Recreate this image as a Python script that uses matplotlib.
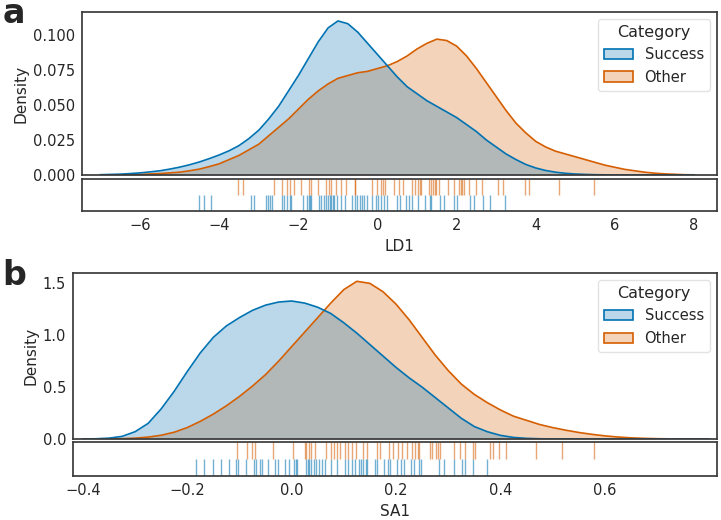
import matplotlib
matplotlib.use("Agg")
import matplotlib.pyplot as plt
from matplotlib.colors import to_rgba
from matplotlib.patches import Patch

# ---- panel a: LD1 ----
# density curves every 0.25 LD1 units
ld1_grid = [-7.00, -6.75, -6.50, -6.25, -6.00, -5.75, -5.50, -5.25, -5.00, -4.75,
            -4.50, -4.25, -4.00, -3.75, -3.50, -3.25, -3.00, -2.75, -2.50, -2.25,
            -2.00, -1.75, -1.50, -1.25, -1.00, -0.75, -0.50, -0.25, 0.00, 0.25,
            0.50, 0.75, 1.00, 1.25, 1.50, 1.75, 2.00, 2.25, 2.50, 2.75,
            3.00, 3.25, 3.50, 3.75, 4.00, 4.25, 4.50, 4.75, 5.00, 5.25,
            5.50, 5.75, 6.00, 6.25, 6.50, 6.75, 7.00, 7.25, 7.50, 7.75, 8.00]
ld1_dens_success = [0.0002, 0.0004, 0.0006, 0.001, 0.0015, 0.0022, 0.003, 0.0042, 0.0056, 0.0073,
                    0.0093, 0.0117, 0.0143, 0.0173, 0.021, 0.026, 0.032, 0.040, 0.049, 0.060,
                    0.071, 0.083, 0.095, 0.105, 0.110, 0.108, 0.102, 0.094, 0.086, 0.078,
                    0.070, 0.063, 0.058, 0.053, 0.049, 0.045, 0.041, 0.036, 0.031, 0.025,
                    0.020, 0.015, 0.011, 0.0075, 0.005, 0.0032, 0.002, 0.0012, 0.0007, 0.0004,
                    0.0002, 0.0001, 0.0, 0.0, 0.0, 0.0, 0.0, 0.0, 0.0, 0.0, 0.0]
ld1_dens_other = [0.0, 0.0, 0.0001, 0.0002, 0.0004, 0.0007, 0.001, 0.0015, 0.002, 0.003,
                  0.0042, 0.006, 0.008, 0.011, 0.014, 0.018, 0.022, 0.028, 0.034, 0.040,
                  0.047, 0.054, 0.060, 0.065, 0.069, 0.071, 0.073, 0.074, 0.076, 0.078,
                  0.081, 0.085, 0.090, 0.094, 0.097, 0.096, 0.092, 0.085, 0.076, 0.066,
                  0.056, 0.046, 0.037, 0.030, 0.024, 0.020, 0.017, 0.015, 0.013, 0.011,
                  0.009, 0.007, 0.0055, 0.004, 0.003, 0.002, 0.0013, 0.0008, 0.0005, 0.0002, 0.0001]

# rug positions (individual LD1 scores)
ld1_success = [-4.51, -4.39, -4.22, -3.19, -3.12, -2.83, -2.77, -2.72, -2.66, -2.41,
               -2.37, -2.28, -2.22, -2.18, -1.88, -1.77, -1.73, -1.71, -1.67, -1.48,
               -1.42, -1.36, -1.29, -1.26, -1.21, -1.17, -1.12, -1.09, -1.02, -0.93,
               -0.81, -0.64, -0.58, -0.51, -0.45, -0.39, -0.35, -0.26, -0.13, -0.05,
               0.01, 0.08, 0.16, 0.23, 0.50, 0.58, 0.73, 0.79, 0.86, 1.02,
               1.19, 1.32, 1.36, 1.57, 1.67, 1.93, 2.01, 2.33, 2.43, 2.67,
               2.85, 3.21]
ld1_other = [-3.53, -3.39, -2.62, -2.41, -2.28, -2.22, -2.11, -1.94, -1.73, -1.67,
             -1.51, -1.29, -1.23, -1.17, -1.06, -0.93, -0.79, -0.57, -0.56, -0.13,
             -0.01, 0.08, 0.13, 0.20, 0.41, 0.54, 0.65, 0.86, 0.96, 1.02,
             1.07, 1.10, 1.30, 1.36, 1.41, 1.45, 1.49, 1.55, 1.78, 1.93,
             2.05, 2.10, 2.14, 2.18, 2.31, 2.49, 2.63, 3.04, 3.17, 3.74,
             3.82, 4.58, 5.46]

# ---- panel b: SA1 ----
sa1_grid = [-0.400, -0.375, -0.350, -0.325, -0.300, -0.275, -0.250, -0.225, -0.200, -0.175,
            -0.150, -0.125, -0.100, -0.075, -0.050, -0.025, 0.000, 0.025, 0.050, 0.075,
            0.100, 0.125, 0.150, 0.175, 0.200, 0.225, 0.250, 0.275, 0.300, 0.325,
            0.350, 0.375, 0.400, 0.425, 0.450, 0.475, 0.500, 0.525, 0.550, 0.575,
            0.600, 0.625, 0.650, 0.675, 0.700, 0.725, 0.750, 0.775, 0.800]
sa1_dens_success = [0.0, 0.002, 0.008, 0.025, 0.07, 0.15, 0.29, 0.46, 0.65, 0.83,
                    0.98, 1.09, 1.17, 1.24, 1.29, 1.32, 1.33, 1.31, 1.27, 1.21,
                    1.12, 1.02, 0.91, 0.80, 0.69, 0.59, 0.50, 0.40, 0.30, 0.20,
                    0.12, 0.07, 0.035, 0.015, 0.006, 0.002, 0.0005, 0.0, 0.0, 0.0,
                    0.0, 0.0, 0.0, 0.0, 0.0, 0.0, 0.0, 0.0, 0.0]
sa1_dens_other = [0.0, 0.0, 0.001, 0.003, 0.008, 0.018, 0.036, 0.065, 0.11, 0.17,
                  0.24, 0.32, 0.41, 0.51, 0.62, 0.75, 0.89, 1.03, 1.17, 1.31,
                  1.44, 1.52, 1.50, 1.42, 1.30, 1.15, 0.98, 0.81, 0.66, 0.53,
                  0.43, 0.35, 0.28, 0.22, 0.18, 0.14, 0.11, 0.085, 0.063, 0.045,
                  0.030, 0.019, 0.011, 0.006, 0.003, 0.0012, 0.0004, 0.0001, 0.0]

sa1_success = [-0.184, -0.168, -0.151, -0.135, -0.120, -0.106, -0.103, -0.088, -0.072, -0.069,
               -0.061, -0.056, -0.045, -0.031, -0.026, -0.013, -0.005, 0.004, 0.008, 0.011,
               0.028, 0.031, 0.034, 0.038, 0.043, 0.046, 0.052, 0.059, 0.063, 0.076,
               0.087, 0.103, 0.108, 0.115, 0.121, 0.129, 0.133, 0.137, 0.142, 0.144,
               0.159, 0.163, 0.177, 0.184, 0.188, 0.201, 0.209, 0.216, 0.228, 0.234,
               0.244, 0.248, 0.282, 0.292, 0.312, 0.327, 0.333, 0.348, 0.375]
sa1_other = [-0.104, -0.085, -0.075, -0.071, -0.036, 0.002, 0.025, 0.028, 0.034, 0.038,
             0.044, 0.066, 0.076, 0.082, 0.087, 0.092, 0.102, 0.108, 0.115, 0.124,
             0.137, 0.145, 0.164, 0.169, 0.186, 0.195, 0.203, 0.212, 0.221, 0.230,
             0.237, 0.242, 0.245, 0.265, 0.269, 0.276, 0.280, 0.284, 0.312, 0.322,
             0.333, 0.348, 0.351, 0.381, 0.386, 0.397, 0.410, 0.469, 0.518, 0.579]

categories = ["Success", "Other"]
colors = {"Success": "#0072B2", "Other": "#D55E00"}
FILL_ALPHA = 0.27

plt.rcParams["font.family"] = ["DejaVu Sans"]
plt.rcParams["text.color"] = "#262626"
plt.rcParams["axes.labelcolor"] = "#262626"
plt.rcParams["xtick.color"] = "#262626"
plt.rcParams["ytick.color"] = "#262626"
plt.rcParams["axes.edgecolor"] = "#3a3a3a"
plt.rcParams["axes.linewidth"] = 1.25
plt.rcParams["xtick.major.size"] = 0
plt.rcParams["ytick.major.size"] = 0
plt.rcParams["xtick.major.pad"] = 5
plt.rcParams["ytick.major.pad"] = 5


def panel(fig, main_rect, rug_rect, name, grid, dens, points, xlim, ylim, xticks, yticks, letter, baseline):
	ax = fig.add_axes(main_rect)
	rug = fig.add_axes(rug_rect, sharex=ax)

	# Other first so Success sits on top in the overlap
	for cat in ["Other", "Success"]:
		ax.fill_between(grid, dens[cat], 0, color=colors[cat], alpha=FILL_ALPHA, linewidth=0)
		ax.plot(grid, dens[cat], color=colors[cat], linewidth=1.2, solid_joinstyle="round")
	ax.set_xlim(*xlim)
	ax.set_ylim(*ylim)
	ax.set_yticks(yticks)
	ax.set_ylabel("Density", fontsize=11, labelpad=3)
	ax.tick_params(axis="x", labelbottom=False)
	ax.tick_params(axis="y", labelsize=10.5)

	handles = [Patch(facecolor=to_rgba(colors[c], FILL_ALPHA), edgecolor=colors[c],
	                 linewidth=1.2, label=c) for c in categories]
	ax.legend(handles=handles, title="Category", loc="upper right", fontsize=10.5,
	          title_fontsize=11.5, frameon=True, edgecolor="#dddddd")

	# rug: Other in the top row, Success in the bottom row
	for i, cat in enumerate(["Success", "Other"]):
		rug.vlines(points[cat], i, i + 1, color=colors[cat], alpha=0.55, linewidth=1)
	rug.set_ylim(0, 2)
	rug.set_yticks([])
	rug.set_xticks(xticks)
	rug.set_xlabel(name, fontsize=11)
	rug.tick_params(axis="x", labelsize=10.5)

	fig.text(0.003, baseline, letter, fontsize=24, fontweight="bold", va="baseline", ha="left")
	return ax, rug


fig = plt.figure(figsize=(7.21, 5.20), dpi=100)

panel(fig, [0.1137, 0.6635, 0.8807, 0.3135], [0.1137, 0.5942, 0.8807, 0.0625], "LD1",
      ld1_grid, {"Success": ld1_dens_success, "Other": ld1_dens_other},
      {"Success": ld1_success, "Other": ld1_other},
      (-7.47, 8.58), (0, 0.1164), [-6, -4, -2, 0, 2, 4, 6, 8],
      [0, 0.025, 0.05, 0.075, 0.1], "a", 1 - 23 / 520)
panel(fig, [0.1012, 0.1558, 0.8932, 0.3192], [0.1012, 0.0846, 0.8932, 0.0654], "SA1",
      sa1_grid, {"Success": sa1_dens_success, "Other": sa1_dens_other},
      {"Success": sa1_success, "Other": sa1_other},
      (-0.419, 0.815), (0, 1.6), [-0.4, -0.2, 0.0, 0.2, 0.4, 0.6],
      [0.0, 0.5, 1.0, 1.5], "b", 1 - 285 / 520)

fig.savefig("out.png", dpi=100)
